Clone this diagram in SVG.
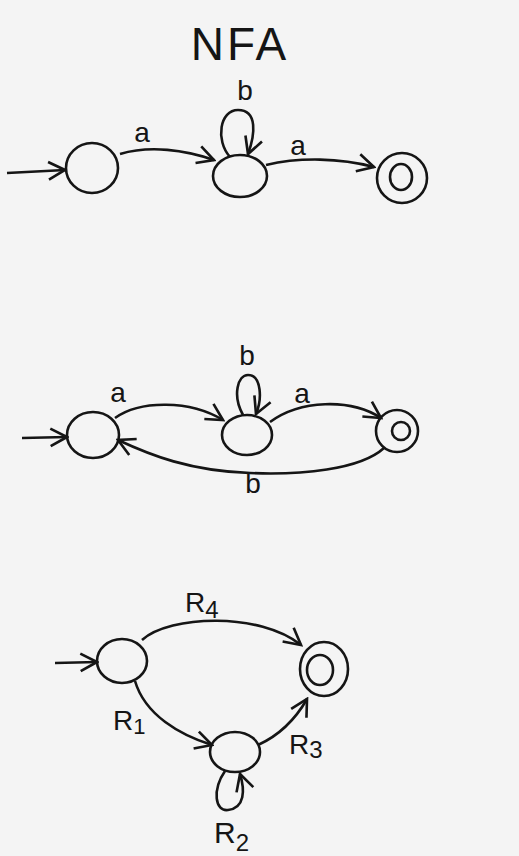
<svg xmlns="http://www.w3.org/2000/svg" width="519" height="856" viewBox="0 0 519 856">
<defs>
<style>
.st{fill:none;stroke:#151515;stroke-width:2.6}
.e{fill:none;stroke:#151515;stroke-width:2.6;marker-end:url(#arr)}
.t{font-family:"Liberation Sans",Arial,sans-serif;fill:#151515}
.lbl{font-size:28px;text-anchor:middle}
</style>
<marker id="arr" viewBox="0 0 20 20" refX="18" refY="10" markerWidth="22" markerHeight="22" markerUnits="userSpaceOnUse" orient="auto">
<path d="M3,2 L18,10 L3,18" fill="none" stroke="#151515" stroke-width="2.4"/>
</marker>
</defs>
<rect width="519" height="856" fill="#f4f4f4"/>
<text class="t" x="240" y="60" font-size="46" text-anchor="middle" letter-spacing="3">NFA</text>

<g id="d1-s1"><ellipse class="st" cx="92" cy="168" rx="26" ry="25"/></g>
<g id="d1-s2"><ellipse class="st" cx="240" cy="176" rx="27" ry="21"/></g>
<g id="d1-s3"><circle class="st" cx="402" cy="178" r="25"/><ellipse class="st" cx="401" cy="177" rx="11" ry="13"/></g>

<g id="d2-s1"><ellipse class="st" cx="93" cy="435" rx="26" ry="23"/></g>
<g id="d2-s2"><ellipse class="st" cx="247" cy="435" rx="25" ry="20"/></g>
<g id="d2-s3"><circle class="st" cx="397" cy="431" r="21"/><circle class="st" cx="401" cy="431" r="9"/></g>

<g id="d3-s1"><ellipse class="st" cx="122" cy="661" rx="25" ry="22"/></g>
<g id="d3-s2"><ellipse class="st" cx="235" cy="752" rx="25" ry="20"/></g>
<g id="d3-s3"><ellipse class="st" cx="324" cy="669" rx="24" ry="27"/><ellipse class="st" cx="320" cy="670" rx="13" ry="15"/></g>

<g id="connectors">
<path class="e" d="M7,173 L65,170"/>
<path class="e" d="M120,154 C150,145 185,150 214,160"/>
<path class="e" d="M230,157 C215,140 220,110 238,110 C258,110 255,135 248,154"/>
<path class="e" d="M266,165 C300,157 340,158 374,167"/>

<path class="e" d="M22,438 L67,437"/>
<path class="e" d="M115,418 C140,400 190,400 223,420"/>
<path class="e" d="M243,415 C232,395 238,375 248,375 C262,375 262,400 256,414"/>
<path class="e" d="M270,422 C300,400 350,398 381,418"/>
<path class="e" d="M384,448 C360,470 300,475 250,473 C190,471 150,455 118,440"/>

<path class="e" d="M55,663 L97,662"/>
<path class="e" d="M142,640 C170,615 260,612 301,645"/>
<path class="e" d="M135,681 C145,715 180,735 212,745"/>
<path class="e" d="M258,745 C280,735 295,720 307,699"/>
<path class="e" d="M225,771 C212,790 215,812 228,810 C245,808 245,790 240,774"/>
</g>

<g id="labels">
<text class="t lbl" x="142" y="142">a</text>
<text class="t lbl" x="245" y="100">b</text>
<text class="t lbl" x="298" y="155">a</text>

<text class="t lbl" x="118" y="402">a</text>
<text class="t lbl" x="247" y="365">b</text>
<text class="t lbl" x="302" y="403">a</text>
<text class="t lbl" x="253" y="493">b</text>

<text class="t" x="185" y="612" font-size="28">R<tspan font-size="24" dy="6">4</tspan></text>
<text class="t" x="113" y="730" font-size="28">R<tspan font-size="22" dy="4">1</tspan></text>
<text class="t" x="289" y="754" font-size="28">R<tspan font-size="24" dy="4">3</tspan></text>
<text class="t" x="214" y="843" font-size="30">R<tspan font-size="24" dy="8">2</tspan></text>
</g>
</svg>
